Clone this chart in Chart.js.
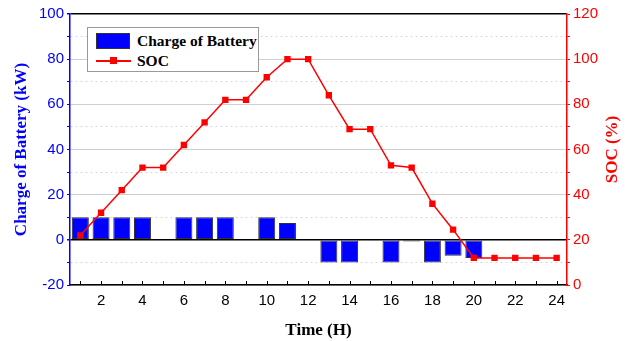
<!DOCTYPE html>
<html>
<head>
<meta charset="utf-8">
<script src="https://cdn.jsdelivr.net/npm/chart.js@4/dist/chart.umd.min.js"></script>
<style>
  html, body { margin: 0; padding: 0; background: #fff; }
  #wrap { position: relative; width: 629px; height: 341px; }
  #legend {
    position: absolute; left: 87px; top: 27px; width: 170px; height: 43px;
    border: 1px solid #999; background: #fff;
    font-family: "Liberation Serif", "Times New Roman", serif; font-weight: bold; font-size: 15.5px; color: #000;
  }
  .row { position: absolute; left: 8px; height: 20px; line-height: 20px; }
  .swatch { position: absolute; left: 0; top: 2px; width: 34px; height: 16px; background: #0000ff; border: 1px solid #333; box-sizing: border-box; }
  .sline { position: absolute; left: 0; top: 9px; width: 35px; height: 2px; background: #ff0000; }
  .smark { position: absolute; left: 14px; top: 6px; width: 7px; height: 7px; background: #ff0000; }
  .txt { position: absolute; left: 41px; top: 0; white-space: nowrap; }
</style>
</head>
<body>
<div id="wrap">
  <canvas id="chart" width="629" height="341"></canvas>
  <div id="legend">
    <div class="row" style="top:3px"><span class="swatch"></span><span class="txt">Charge of Battery</span></div>
    <div class="row" style="top:23px"><span class="sline"></span><span class="smark"></span><span class="txt">SOC</span></div>
  </div>
</div>
<script>
// hours of the day
var hours = ['1','2','3','4','5','6','7','8','9','10','11','12','13','14','15','16','17','18','19','20','21','22','23','24'];
// charge of battery (kW), left axis
var chargeKW = [10, 10, 10, 10, 0, 10, 10, 10, 0, 10, 7.5, 0, -10, -10, 0, -10, -0.7, -10, -7, -8, 0, 0, 0, 0];
// state of charge (%), right axis
var socPct = [22, 32, 42, 52, 52, 62, 72, 82, 82, 92, 100, 100, 84, 69, 69, 53, 52, 36, 24.5, 12, 12, 12, 12, 12];

var sansFont = "'Liberation Sans', Arial, sans-serif";
var serifFont = "'Liberation Serif', 'Times New Roman', serif";

// small inward tick marks on the time axis
var innerTicks = {
	id: 'innerTicks',
	afterDatasetsDraw: function(chart) {
		var ctx = chart.ctx;
		var xs = chart.scales.x;
		var bottom = chart.chartArea.bottom;
		ctx.save();
		ctx.strokeStyle = '#000';
		ctx.lineWidth = 1;
		for (var i = 0; i < hours.length; i++) {
			var px = Math.round(xs.getPixelForTick(i)) + 0.5;
			ctx.beginPath();
			ctx.moveTo(px, bottom);
			ctx.lineTo(px, bottom - 4);
			ctx.stroke();
		}
		ctx.restore();
	}
};

// right axis title reads bottom to top, like the left one
var rightTitle = {
	id: 'rightTitle',
	afterDraw: function(chart) {
		var ctx = chart.ctx;
		var area = chart.chartArea;
		ctx.save();
		ctx.translate(613, (area.top + area.bottom) / 2);
		ctx.rotate(-Math.PI / 2);
		ctx.fillStyle = '#ff0000';
		ctx.font = 'bold 17px ' + serifFont;
		ctx.textAlign = 'center';
		ctx.textBaseline = 'middle';
		ctx.fillText('SOC (%)', 0, 0);
		ctx.restore();
	}
};

var ctx = document.getElementById('chart').getContext('2d');
var chart = new Chart(ctx, {
	type: 'bar',
	data: {
		labels: hours,
		datasets: [
			{
				type: 'line',
				label: 'SOC',
				data: socPct,
				yAxisID: 'y1',
				borderColor: '#ff0000',
				backgroundColor: '#ff0000',
				borderWidth: 1.5,
				pointStyle: 'rect',
				pointRadius: 4.5,
				pointBorderWidth: 0,
				tension: 0,
				order: 0
			},
			{
				label: 'Charge of Battery',
				data: chargeKW,
				yAxisID: 'y',
				backgroundColor: '#0000ff',
				borderColor: '#333333',
				borderWidth: 1,
				borderSkipped: false,
				barPercentage: 0.82,
				categoryPercentage: 1.0,
				order: 1
			}
		]
	},
	options: {
		responsive: false,
		animation: false,
		layout: { padding: { top: 14, left: 0, right: 0, bottom: 0 } },
		plugins: {
			legend: { display: false },
			tooltip: { enabled: false }
		},
		scales: {
			x: {
				offset: true,
				grid: { display: false, drawTicks: false },
				border: { color: '#000', width: 1.5 },
				ticks: {
					autoSkip: false,
					maxRotation: 0,
					padding: 7,
					color: '#000',
					font: { family: sansFont, size: 15 },
					callback: function(v, i) { return (i + 1) % 2 === 0 ? hours[i] : ''; }
				},
				title: {
					display: true,
					text: 'Time (H)',
					color: '#000',
					font: { family: serifFont, size: 17, weight: 'bold' },
					padding: { top: 3, bottom: 0 }
				},
				afterFit: function(s) { s.height = 56; }
			},
			y: {
				position: 'left',
				min: -20,
				max: 100,
				ticks: {
					stepSize: 10,
					padding: 3,
					color: '#0000ff',
					font: { family: sansFont, size: 15 },
					callback: function(v) { return v % 20 === 0 ? v : ''; }
				},
				grid: {
					tickLength: 3,
					tickColor: '#0000ff',
					color: function(c) {
						if (!c.tick) return '#ccc';
						if (c.tick.value === 0 || c.tick.value === 100) return '#000';
						return c.tick.value % 20 === 0 ? '#cfcfcf' : '#d8d8d8';
					},
					lineWidth: function(c) {
						if (c.tick && (c.tick.value === 0 || c.tick.value === 100)) return 1.5;
						return 1;
					}
				},
				border: {
					color: '#0000ff',
					width: 1.5,
					dash: function(c) {
						if (c.tick && c.tick.value % 20 !== 0) return [2, 3];
						return [];
					}
				},
				title: {
					display: true,
					text: 'Charge of Battery (kW)',
					color: '#0000ff',
					font: { family: serifFont, size: 17, weight: 'bold' },
					padding: { top: 11, bottom: 0 }
				},
				afterFit: function(s) { s.width = 70; }
			},
			y1: {
				position: 'right',
				min: 0,
				max: 120,
				ticks: {
					stepSize: 10,
					padding: 3,
					color: '#ff0000',
					font: { family: sansFont, size: 15 },
					callback: function(v) { return v % 20 === 0 ? v : ''; }
				},
				grid: { drawOnChartArea: false, tickLength: 3, tickColor: '#ff0000' },
				border: { color: '#ff0000', width: 1.5 },
				title: { display: false },
				afterFit: function(s) { s.width = 62; }
			}
		}
	},
	plugins: [innerTicks, rightTitle]
});
</script>
</body>
</html>
